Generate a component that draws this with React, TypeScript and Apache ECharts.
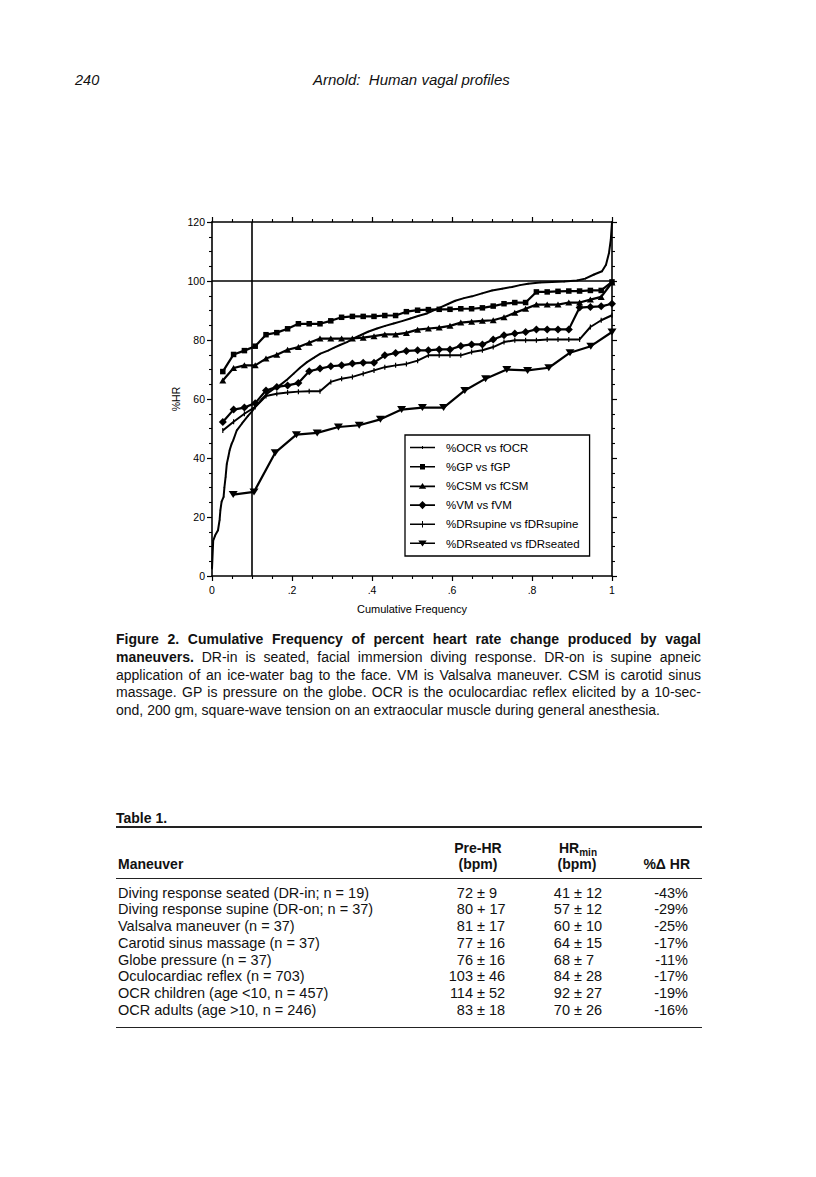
import React, { useEffect, useRef } from "react";
import * as echarts from "echarts";

const FONT = "'Liberation Sans', Arial, Helvetica, sans-serif";

// ---- chart data ----
const freq37 = [0.027, 0.054, 0.081, 0.108, 0.135, 0.162, 0.189, 0.216, 0.243, 0.27, 0.297, 0.324, 0.351, 0.378, 0.405, 0.432, 0.459, 0.486, 0.514, 0.541, 0.568, 0.595, 0.622, 0.649, 0.676, 0.703, 0.73, 0.757, 0.784, 0.811, 0.838, 0.865, 0.892, 0.919, 0.946, 0.973, 1.0];
const freq19 = [0.053, 0.105, 0.158, 0.211, 0.263, 0.316, 0.368, 0.421, 0.474, 0.526, 0.579, 0.632, 0.684, 0.737, 0.789, 0.842, 0.895, 0.947, 1.0];

const gpPct = [69.3, 75.1, 76.4, 77.9, 81.8, 82.5, 83.8, 85.5, 85.5, 85.5, 86.5, 87.7, 88.0, 88.0, 88.0, 88.3, 88.3, 89.6, 90.1, 90.3, 90.4, 90.4, 90.6, 90.6, 90.9, 91.5, 92.3, 92.7, 92.7, 96.3, 96.3, 96.5, 96.6, 96.6, 96.8, 96.8, 99.7];
const csmPct = [66.3, 70.5, 71.4, 71.4, 73.7, 75.0, 76.7, 77.6, 79.1, 80.5, 80.5, 80.5, 80.5, 80.8, 81.3, 81.9, 81.9, 82.4, 83.5, 83.9, 84.2, 84.8, 85.9, 86.2, 86.5, 86.7, 87.7, 89.2, 90.6, 92.0, 92.0, 92.0, 92.7, 92.7, 93.7, 94.6, 99.5];
const vmPct = [52.2, 56.4, 57.1, 58.6, 62.9, 64.1, 64.6, 65.4, 69.4, 70.3, 71.1, 71.4, 72.0, 72.3, 72.3, 74.8, 75.6, 76.3, 76.5, 76.5, 76.8, 76.8, 78.0, 78.5, 78.5, 80.2, 81.6, 82.2, 82.7, 83.6, 83.6, 83.6, 83.6, 91.0, 91.2, 91.4, 92.3];
const drSupinePct = [49.3, 52.3, 55.0, 57.3, 61.0, 61.8, 62.2, 62.5, 62.6, 62.6, 65.8, 66.9, 67.5, 68.6, 69.7, 70.8, 71.4, 71.9, 73.0, 74.8, 74.8, 74.8, 74.8, 75.9, 76.5, 77.6, 79.3, 79.9, 79.9, 79.9, 80.2, 80.2, 80.2, 80.2, 84.4, 86.7, 88.4];
const drSeatedPct = [27.6, 28.5, 41.8, 47.9, 48.5, 50.5, 51.1, 53.1, 56.4, 57.1, 57.1, 62.9, 66.9, 70.0, 69.7, 70.6, 75.7, 77.9, 82.7];

const ocrFreq = [0.0, 0.003, 0.008, 0.015, 0.019, 0.021, 0.024, 0.029, 0.031, 0.034, 0.037, 0.041, 0.044, 0.049, 0.053, 0.062, 0.075, 0.09, 0.1, 0.108, 0.125, 0.1375, 0.155, 0.171, 0.188, 0.204, 0.22, 0.2375, 0.255, 0.271, 0.29, 0.304, 0.32, 0.3375, 0.355, 0.371, 0.39, 0.4125, 0.433, 0.454, 0.475, 0.496, 0.517, 0.5375, 0.567, 0.59, 0.608, 0.63, 0.65, 0.675, 0.7, 0.725, 0.75, 0.77, 0.79, 0.82, 0.85, 0.88, 0.9125, 0.933, 0.955, 0.975, 0.985, 0.9925, 0.997, 1.0];
const ocrPct = [2.5, 12.0, 13.8, 15.5, 19.0, 22.3, 25.2, 26.8, 30.0, 33.6, 38.0, 40.5, 42.6, 44.8, 46.0, 49.4, 51.7, 54.3, 55.8, 57.3, 60.0, 61.8, 63.5, 64.8, 66.6, 68.6, 70.6, 72.5, 74.0, 75.4, 76.4, 77.3, 78.3, 79.3, 80.6, 81.6, 82.8, 83.9, 84.8, 85.6, 86.4, 87.3, 88.2, 89.0, 90.8, 92.2, 93.3, 94.2, 94.8, 95.8, 96.8, 97.4, 98.0, 98.6, 99.1, 99.5, 99.7, 99.8, 100.2, 100.8, 102.2, 103.3, 105.5, 109.5, 114.0, 120.0];

const refFreq = 0.1;
const refPct = 100;

const xTickLabels = ["0", ".2", ".4", ".6", ".8", "1"];
const yTickLabels = ["0", "20", "40", "60", "80", "100", "120"];

const seriesNames = [
  "%OCR vs fOCR",
  "%GP vs fGP",
  "%CSM vs fCSM",
  "%VM vs fVM",
  "%DRsupine vs fDRsupine",
  "%DRseated vs fDRseated",
];

// legend icons: line segment with the series marker in its middle (25 x 10 box)
const LINE = "M0,4.2 H25 V5.8 H0 Z ";
const legendIcons = [
  "path://" + LINE + "M12,3.6 H13 V6.4 H12 Z",
  "path://" + LINE + "M10,2.3 H15 V7.7 H10 Z",
  "path://" + LINE + "M12.5,1.6 L16.2,7.4 L8.8,7.4 Z",
  "path://" + LINE + "M12.5,0.8 L16.5,5 L12.5,9.2 L8.5,5 Z",
  "path://" + LINE + "M12,1.8 H13 V8.2 H12 Z",
  "path://" + LINE + "M8.3,2.2 L16.7,2.2 L12.5,8.4 Z",
];

// ---- table data ----
const tableManeuvers = [
  "Diving response seated (DR-in; n = 19)",
  "Diving response supine (DR-on; n = 37)",
  "Valsalva maneuver (n = 37)",
  "Carotid sinus massage (n = 37)",
  "Globe pressure (n = 37)",
  "Oculocardiac reflex (n = 703)",
  "OCR children (age <10, n = 457)",
  "OCR adults (age >10, n = 246)",
];
const preHrMean = ["72", "80", "81", "77", "76", "103", "114", "83"];
const preHrSign = ["±", "+", "±", "±", "±", "±", "±", "±"];
const preHrSd = ["9", "17", "17", "16", "16", "46", "52", "18"];
const hrMinMean = ["41", "57", "60", "64", "68", "84", "92", "70"];
const hrMinSd = ["12", "12", "10", "15", "7", "28", "27", "26"];
const pctChange = ["-43%", "-29%", "-25%", "-17%", "-11%", "-17%", "-19%", "-16%"];

const captionLines = [
  { bold: "Figure 2. Cumulative Frequency of percent heart rate change produced by vagal", text: "" },
  { bold: "maneuvers.", text: " DR-in is seated, facial immersion diving response. DR-on is supine apneic" },
  { bold: "", text: "application of an ice-water bag to the face. VM is Valsalva maneuver. CSM is carotid sinus" },
  { bold: "", text: "massage. GP is pressure on the globe. OCR is the oculocardiac reflex elicited by a 10-sec-" },
  { bold: "", text: "ond, 200 gm, square-wave tension on an extraocular muscle during general anesthesia." },
];

const zip = (xs: number[], ys: number[]) => xs.map((x, i) => [x, ys[i]]);

function Chart() {
  const ref = useRef<HTMLDivElement>(null);
  useEffect(() => {
    if (!ref.current) return;
    const chart = echarts.init(ref.current, undefined, { renderer: "svg" });
    const black = "#000";
    const axisLine = { show: true, onZero: false, lineStyle: { color: black, width: 1.6 } };
    const axisTick = { show: true, length: 5, lineStyle: { color: black, width: 1.2 } };
    const minorTick = { show: true, splitNumber: 4, length: 3, lineStyle: { color: black, width: 1.1 } };
    const baseLine = (name: string, data: number[][], symbol: string, size: any, width = 2, extra: any = {}) => ({
      name,
      type: "line",
      data,
      symbol,
      symbolSize: size,
      showAllSymbol: true,
      lineStyle: { color: black, width },
      itemStyle: { color: black },
      z: 3,
      ...extra,
    });
    chart.setOption({
      animation: false,
      grid: { left: 212, top: 222, width: 400, height: 354, containLabel: false },
      xAxis: [
        {
          type: "value",
          min: 0,
          max: 1,
          interval: 0.2,
          position: "bottom",
          axisLine,
          axisTick,
          minorTick,
          splitLine: { show: false },
          axisLabel: {
            color: black,
            fontSize: 10.5,
            fontFamily: FONT,
            margin: 8,
            formatter: (v: number) => xTickLabels[Math.round(v / 0.2)],
          },
          name: "Cumulative Frequency",
          nameLocation: "middle",
          nameGap: 27,
          nameTextStyle: { color: black, fontSize: 11, fontFamily: FONT },
        },
        {
          type: "value",
          min: 0,
          max: 1,
          interval: 0.2,
          position: "top",
          axisLine,
          axisTick,
          minorTick,
          splitLine: { show: false },
          axisLabel: { show: false },
        },
      ],
      yAxis: [
        {
          type: "value",
          min: 0,
          max: 120,
          interval: 20,
          position: "left",
          axisLine,
          axisTick,
          minorTick,
          splitLine: { show: false },
          axisLabel: {
            color: black,
            fontSize: 10.5,
            fontFamily: FONT,
            margin: 7,
            formatter: (v: number) => yTickLabels[Math.round(v / 20)],
          },
          name: "%HR",
          nameLocation: "middle",
          nameGap: 31,
          nameRotate: 90,
          nameTextStyle: { color: black, fontSize: 10.5, fontFamily: FONT },
        },
        {
          type: "value",
          min: 0,
          max: 120,
          interval: 20,
          position: "right",
          axisLine,
          axisTick,
          minorTick,
          splitLine: { show: false },
          axisLabel: { show: false },
        },
      ],
      legend: {
        data: seriesNames.map((name, i) => ({ name, icon: legendIcons[i] })),
        orient: "vertical",
        left: 405,
        top: 435,
        itemWidth: 25,
        itemHeight: 10,
        itemGap: 7.2,
        symbolKeepAspect: true,
        padding: [6.5, 10, 6.5, 5],
        borderColor: black,
        borderWidth: 1.3,
        backgroundColor: "#fff",
        selectedMode: false,
        textStyle: { color: black, fontSize: 11.5, fontFamily: FONT, lineHeight: 12, padding: [0, 0, 0, 6] },
      },
      series: [
        {
          name: "ref-x",
          type: "line",
          data: [
            [refFreq, 0],
            [refFreq, 120],
          ],
          symbol: "none",
          lineStyle: { color: black, width: 1.6 },
          silent: true,
          z: 2,
        },
        {
          name: "ref-y",
          type: "line",
          data: [
            [0, refPct],
            [1, refPct],
          ],
          symbol: "none",
          lineStyle: { color: black, width: 1.6 },
          silent: true,
          z: 2,
        },
        baseLine(seriesNames[0], zip(ocrFreq, ocrPct), "circle", 1.5, 2),
        baseLine(seriesNames[1], zip(freq37, gpPct), "rect", 5.5, 2.2),
        baseLine(seriesNames[2], zip(freq37, csmPct), "triangle", [7, 6], 2.2),
        baseLine(seriesNames[3], zip(freq37, vmPct), "diamond", 8, 2.2),
        baseLine(seriesNames[4], zip(freq37, drSupinePct), "rect", [1.2, 5], 2),
        baseLine(seriesNames[5], zip(freq19, drSeatedPct), "triangle", [9, 7], 2.2, { symbolRotate: 180 }),
      ],
    });
    return () => chart.dispose();
  }, []);
  return <div ref={ref} style={{ position: "absolute", left: 0, top: 0, width: 816, height: 1177 }} />;
}

const abs = (o: React.CSSProperties): React.CSSProperties => ({ position: "absolute", whiteSpace: "nowrap", ...o });

export default function App() {
  const rowTop = 884.5;
  const rowH = 16.75;
  const rowFont = 14.5;
  return (
    <div
      style={{
        position: "absolute",
        left: 0,
        top: 0,
        width: 816,
        height: 1177,
        background: "#fff",
        fontFamily: FONT,
        color: "#111",
        overflow: "hidden",
      }}
    >
      <Chart />
      {/* running header */}
      <div style={abs({ left: 75, top: 72, fontSize: 14.5, lineHeight: "16px", fontStyle: "italic" })}>240</div>
      <div style={abs({ left: 313, top: 72, fontSize: 15, lineHeight: "16px", fontStyle: "italic", whiteSpace: "pre" })}>
        {"Arnold:  Human vagal profiles"}
      </div>

      {/* caption */}
      <div style={{ position: "absolute", left: 116, top: 631, width: 585, fontSize: 14, lineHeight: "17.75px" }}>
        {captionLines.map((l, i) => (
          <div
            key={i}
            style={{
              textAlign: "justify",
              textAlignLast: i < captionLines.length - 1 ? "justify" : "left",
              whiteSpace: "normal",
              height: 17.75,
            }}
          >
            {l.bold ? <b>{l.bold}</b> : null}
            {l.text}
          </div>
        ))}
      </div>

      {/* table */}
      <div style={abs({ left: 116, top: 810, fontSize: 14, lineHeight: "16px", fontWeight: "bold" })}>Table 1.</div>
      <div style={abs({ left: 116, top: 826, width: 586, height: 1.6, background: "#222" })} />
      <div style={abs({ left: 438, top: 840, width: 80, textAlign: "center", fontSize: 14, lineHeight: "16px", fontWeight: "bold" })}>
        Pre-HR
      </div>
      <div style={abs({ left: 438, top: 856, width: 80, textAlign: "center", fontSize: 14, lineHeight: "16px", fontWeight: "bold" })}>
        (bpm)
      </div>
      <div style={abs({ left: 538, top: 840, width: 80, textAlign: "center", fontSize: 14, lineHeight: "16px", fontWeight: "bold" })}>
        HR<sub style={{ fontSize: 10, verticalAlign: "-3px" }}>min</sub>
      </div>
      <div style={abs({ left: 537, top: 856, width: 80, textAlign: "center", fontSize: 14, lineHeight: "16px", fontWeight: "bold" })}>
        (bpm)
      </div>
      <div style={abs({ left: 118, top: 856, fontSize: 14, lineHeight: "16px", fontWeight: "bold" })}>Maneuver</div>
      <div style={abs({ left: 610, top: 856, width: 80, textAlign: "right", fontSize: 14, lineHeight: "16px", fontWeight: "bold" })}>
        %Δ HR
      </div>
      <div style={abs({ left: 116, top: 878, width: 586, height: 1.3, background: "#222" })} />
      {tableManeuvers.map((m, i) => {
        const top = rowTop + i * rowH;
        const st = { fontSize: rowFont, lineHeight: `${rowH}px` };
        return (
          <React.Fragment key={i}>
            <div style={abs({ left: 118, top, ...st })}>{m}</div>
            <div style={abs({ left: 413, top, width: 60, textAlign: "right", ...st })}>{preHrMean[i]}</div>
            <div style={abs({ left: 473, top, ...st, whiteSpace: "pre" })}>{` ${preHrSign[i]} ${preHrSd[i]}`}</div>
            <div style={abs({ left: 510, top, width: 60, textAlign: "right", ...st })}>{hrMinMean[i]}</div>
            <div style={abs({ left: 570, top, ...st, whiteSpace: "pre" })}>{` ± ${hrMinSd[i]}`}</div>
            <div style={abs({ left: 608, top, width: 80, textAlign: "right", ...st })}>{pctChange[i]}</div>
          </React.Fragment>
        );
      })}
      <div style={abs({ left: 116, top: 1027, width: 586, height: 1.4, background: "#222" })} />
    </div>
  );
}
